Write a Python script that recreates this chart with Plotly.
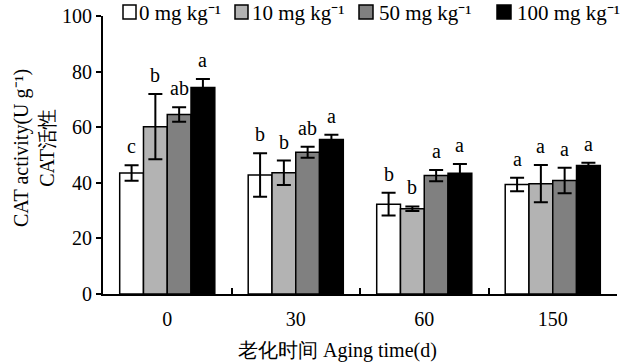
import plotly.graph_objects as go

categories = ["0", "30", "60", "150"]
series_names = ["0 mg kg⁻¹", "10 mg kg⁻¹", "50 mg kg⁻¹", "100 mg kg⁻¹"]
vals_0 = [43.5, 42.8, 32.3, 39.4]
err_0 = [2.8, 7.8, 4.1, 2.4]
vals_10 = [60.2, 43.6, 30.7, 39.7]
err_10 = [11.7, 4.4, 0.8, 6.7]
vals_50 = [64.6, 51.0, 42.6, 40.8]
err_50 = [2.6, 2.0, 2.0, 4.6]
vals_100 = [74.3, 55.6, 43.4, 46.2]
err_100 = [3.0, 1.7, 3.4, 1.0]
letters_0 = ["c", "b", "b", "a"]
letters_10 = ["b", "b", "b", "a"]
letters_50 = ["ab", "ab", "a", "a"]
letters_100 = ["a", "a", "a", "a"]
y_ticks = [0, 20, 40, 60, 80, 100]

colors = ["#ffffff", "#b3b3b3", "#808080", "#000000"]
values = [vals_0, vals_10, vals_50, vals_100]
errors = [err_0, err_10, err_50, err_100]
letters = [letters_0, letters_10, letters_50, letters_100]

FONT = "Liberation Serif"
W, H = 628, 364
# plot area in window pixels: x 103..617, y 16..294
L, R, T, B = 103, 628 - 617, 16, 364 - 294
BARGAP = 0.26

fig = go.Figure()
for name, v, e, c in zip(series_names, values, errors, colors):
    fig.add_trace(go.Bar(
        x=categories, y=v, name=name,
        marker=dict(color=c, line=dict(color="black", width=1.5)),
        error_y=dict(type="data", array=e, visible=True, color="black", thickness=2, width=7),
        showlegend=False,
    ))

annotations = []
bw = (1 - BARGAP) / 4
for i, (v, e, lt) in enumerate(zip(values, errors, letters)):
    for k in range(len(categories)):
        annotations.append(dict(
            x=k + (i - 1.5) * bw, y=v[k] + e[k], xref="x", yref="y",
            text=lt[k], showarrow=False, yanchor="bottom", yshift=6,
            font=dict(family=FONT, size=20, color="black"),
        ))

# legend (manual, top row) -- coordinates in window pixels
pw = W - L - R
ph = H - T - B
def px_x(px):
    return (px - L) / pw
def px_y(py):
    return (H - B - py) / ph

legend_sq = [(123, 136), (235, 248), (359, 373), (497, 511)]
legend_tx = [137, 250, 377, 515]
for (x0, x1), tx, name, c in zip(legend_sq, legend_tx, series_names, colors):
    fig.add_shape(type="rect", xref="paper", yref="paper",
                  x0=px_x(x0), x1=px_x(x1), y0=px_y(19), y1=px_y(5),
                  fillcolor=c, line=dict(color="black", width=1.5))
    annotations.append(dict(
        x=px_x(tx), y=px_y(13), xref="paper", yref="paper", text=name,
        showarrow=False, xanchor="left", yanchor="middle",
        font=dict(family=FONT, size=21, color="black"),
    ))

annotations.append(dict(
    x=px_x(337), y=px_y(350), xref="paper", yref="paper",
    text="老化时间 Aging time(d)", showarrow=False, xanchor="center", yanchor="middle",
    font=dict(family=FONT, size=20, color="black"),
))
annotations.append(dict(
    x=px_x(34), y=px_y(148), xref="paper", yref="paper",
    text="CAT activity(U g⁻¹)<br>CAT活性", showarrow=False,
    xanchor="center", yanchor="middle", textangle=-90,
    font=dict(family=FONT, size=20, color="black"),
))

fig.update_layout(
    width=W, height=H,
    margin=dict(l=L, r=R, t=T, b=B, pad=0, autoexpand=False),
    paper_bgcolor="white", plot_bgcolor="white",
    barmode="group", bargap=BARGAP, bargroupgap=0,
    font=dict(family=FONT, size=20, color="black"),
    annotations=annotations,
    xaxis=dict(
        type="category", range=[-0.5, 3.5], showline=True, linecolor="black", linewidth=2,
        ticks="inside", tickson="boundaries", ticklen=6, tickwidth=2, tickcolor="black",
        showgrid=False, zeroline=False, tickfont=dict(family=FONT, size=20),
        ticklabelstandoff=6, automargin=False,
    ),
    yaxis=dict(
        range=[0, 100], tickvals=y_ticks, showline=True, linecolor="black", linewidth=2,
        ticks="outside", ticklen=5, tickwidth=2, tickcolor="black",
        showgrid=False, zeroline=False, tickfont=dict(family=FONT, size=20),
        ticklabeloverflow="allow", automargin=False,
    ),
)

fig.write_html(
    "out.html",
    config={"staticPlot": True, "displayModeBar": False},
    post_script="document.body.style.margin='0';document.body.style.overflow='hidden';",
)
